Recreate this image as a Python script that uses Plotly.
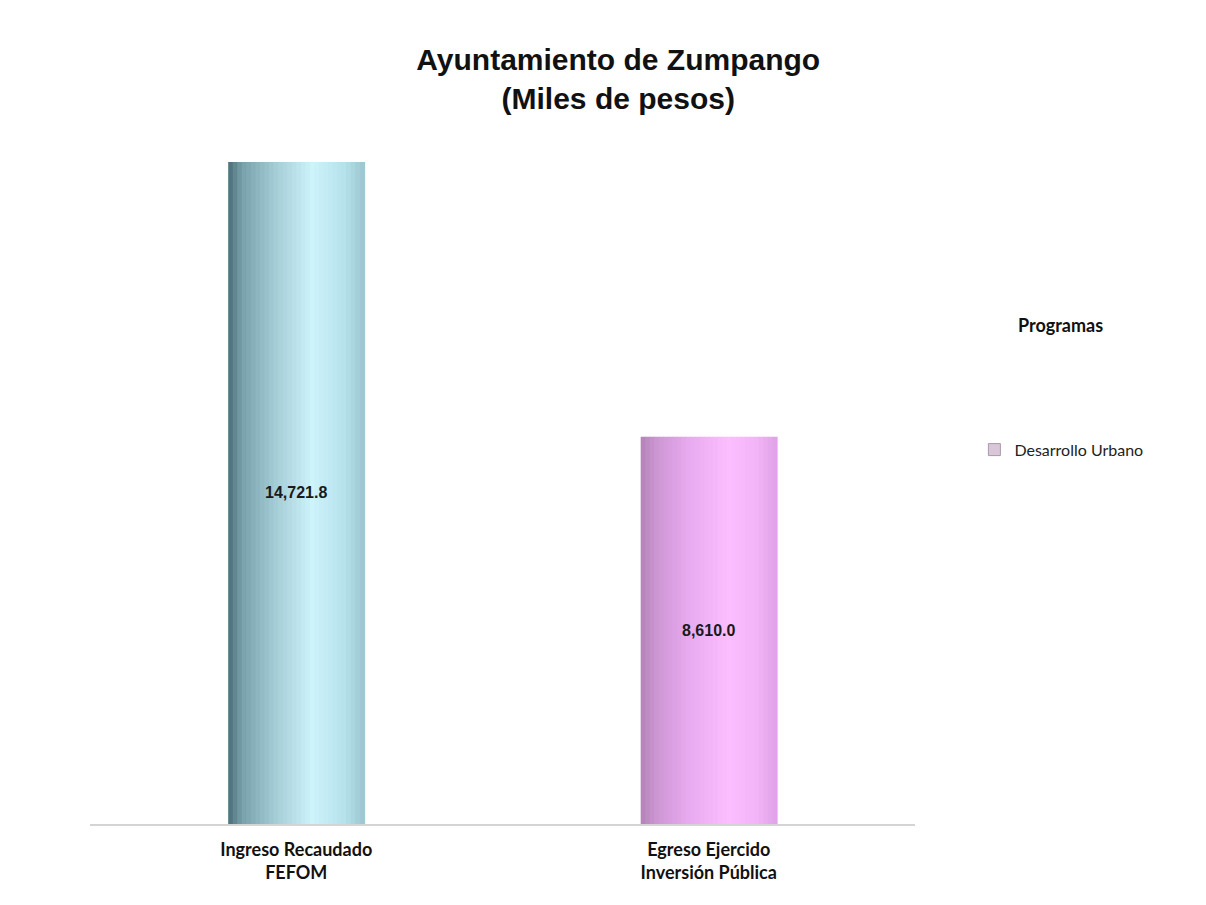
import plotly.graph_objects as go

categories = ["Ingreso Recaudado<br>FEFOM", "Egreso Ejercido<br>Inversión Pública"]
values = [14721.8, 8610.0]
value_labels = ["14,721.8", "8,610.0"]
legend_name = "Desarrollo Urbano"
legend_title = "Programas"
title_text = "Ayuntamiento de Zumpango<br>(Miles de pesos)"

# cylinder shading stops: (position across bar, color) for each bar
blue_stops = [(0.0, (75, 110, 120)), (0.10, (120, 160, 170)), (0.35, (165, 205, 215)),
              (0.62, (205, 243, 251)), (0.85, (182, 226, 236)), (1.0, (155, 198, 208))]
pink_stops = [(0.0, (178, 132, 182)), (0.12, (205, 150, 212)), (0.35, (232, 170, 238)),
              (0.65, (252, 190, 255)), (0.85, (242, 180, 247)), (1.0, (224, 162, 230))]


def interp(stops, t):
    for (p0, c0), (p1, c1) in zip(stops[:-1], stops[1:]):
        if p0 <= t <= p1:
            f = (t - p0) / (p1 - p0) if p1 > p0 else 0
            return "rgb(%d,%d,%d)" % tuple(round(a + (b - a) * f) for a, b in zip(c0, c1))
    c = stops[-1][1]
    return "rgb(%d,%d,%d)" % c


W = 0.33
K = 30
fig = go.Figure()
for i in range(K):
    t = (i + 0.5) / K
    fig.add_trace(go.Bar(
        x=categories, y=values,
        width=W / K + 0.002, offset=-W / 2 + i * W / K,
        marker=dict(color=[interp(blue_stops, t), interp(pink_stops, t)], line=dict(width=0)),
        showlegend=False, hoverinfo="skip",
    ))

# labels bar (transparent, full width)
fig.add_trace(go.Bar(
    x=categories, y=values, width=W, offset=-W / 2,
    marker=dict(color="rgba(0,0,0,0)", line=dict(width=0)),
    text=["<b>" + s + "</b>" for s in value_labels], textposition="inside", insidetextanchor="middle",
    textfont=dict(family="Liberation Sans, Arial, sans-serif", size=16, color="#1a1a1a"),
    textangle=0, showlegend=False, hoverinfo="skip",
))

# legend entry
fig.add_trace(go.Bar(
    x=[categories[1]], y=[None], name=legend_name,
    marker=dict(color="#d9c6d9", line=dict(color="#a89aa8", width=1)),
    showlegend=True, hoverinfo="skip",
))

fig.update_layout(
    width=1206, height=905,
    paper_bgcolor="white", plot_bgcolor="white",
    barmode="overlay",
    margin=dict(l=82, r=299, t=92, b=89),
    title=dict(text="<b>" + title_text + "</b>", x=0.506, xanchor="center", y=0.931, yanchor="top",
               font=dict(family="Liberation Sans, Arial, sans-serif", size=30, color="#111111")),
    xaxis=dict(showline=True, linecolor="#d4d4d4", linewidth=2, showgrid=False, zeroline=False,
               ticks="outside", ticklen=8, tickcolor="rgba(0,0,0,0)",
               tickmode="array", tickvals=categories,
               ticktext=["<b>" + c.replace("<br>", "</b><br><b>") + "</b>" for c in categories],
               tickfont=dict(family="Lato, sans-serif", size=18, color="#111111"),
               range=[-0.5, 1.5]),
    yaxis=dict(visible=False, range=[0, 16100], showgrid=False, zeroline=False),
    legend=dict(x=1.072, y=0.517, xanchor="left", yanchor="middle",
                font=dict(family="Lato, sans-serif", size=16, color="#222222"),
                bgcolor="rgba(0,0,0,0)"),
    annotations=[dict(text="<b>" + legend_title + "</b>", xref="paper", yref="paper",
                      x=1.176, y=0.689, xanchor="center", yanchor="middle", showarrow=False,
                      font=dict(family="Lato, sans-serif", size=18, color="#111111"))],
)

fig.write_html("out.html")
